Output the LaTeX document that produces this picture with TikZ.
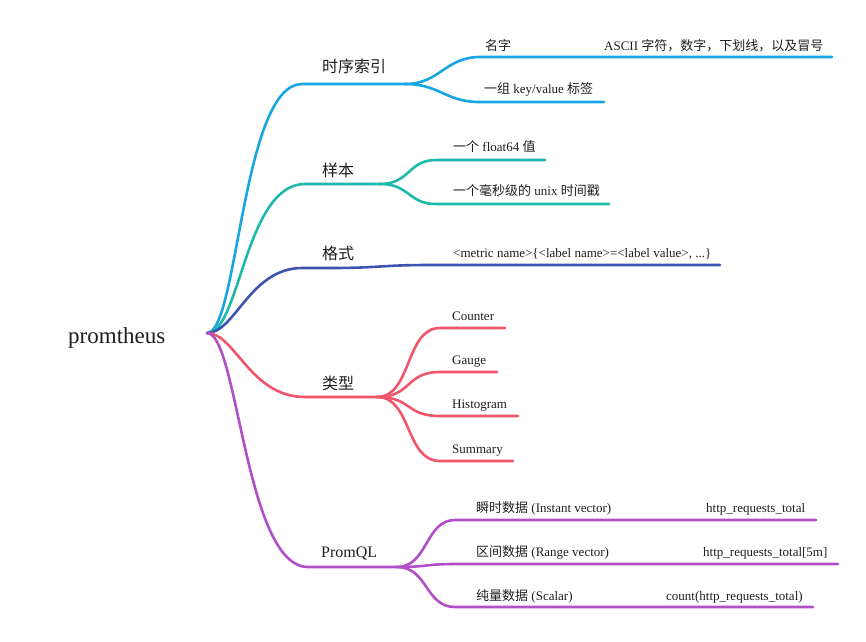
\documentclass[tikz,border=0pt]{standalone}
\usepackage{fontspec}
\setmainfont{Liberation Serif}
\newfontfamily\cjk{Noto Sans CJK SC}
\newcommand{\zh}[1]{{\cjk #1}}
\definecolor{cblue}{RGB}{24,165,228}
\definecolor{cteal}{RGB}{30,185,170}
\definecolor{cnavy}{RGB}{62,84,178}
\definecolor{cred}{RGB}{240,85,108}
\definecolor{cpurple}{RGB}{178,78,200}
\definecolor{ctext}{RGB}{30,30,30}
\tikzset{
  edge/.style={line width=2.6pt, line cap=round},
  leaf/.style={anchor=base west, inner sep=0pt, font=\fontsize{13}{15}\selectfont, text=ctext},
  topic/.style={anchor=base west, inner sep=0pt, font=\fontsize{16}{19}\selectfont, text=ctext},
  rootnode/.style={anchor=base west, inner sep=0pt, font=\fontsize{23}{27}\selectfont, text=ctext}
}
\begin{document}
\begin{tikzpicture}[x=1pt,y=-1pt]
\useasboundingbox (0,0) rectangle (866,641);
% root
\node[rootnode] (rootlabel) at (68,343) {promtheus};
\coordinate (root) at (207,333);

% ---------- branch 1
\coordinate (b1s) at (302,84);
\coordinate (b1e) at (405,84);
\coordinate (b1a) at (480,57);  \coordinate (b1ae) at (832,57);
\coordinate (b1b) at (480,102); \coordinate (b1be) at (604,102);
\node[topic] (t1) at (322,72) {\zh{时序索引}};
\node[leaf] (l1a) at (485,50) {\zh{名字}};
\node[leaf] (l1a2) at (604,50) {ASCII \zh{字符，数字，下划线，以及冒号}};
\node[leaf] (l1b) at (484,93) {\zh{一组} key/value \zh{标签}};
\begin{scope}[cblue]
\draw[edge] (root) .. controls (238,333) and (242,84) .. (b1s) -- (b1e);
\draw[edge] (b1e) .. controls (440,84) and (445,57) .. (b1a) -- (b1ae);
\draw[edge] (b1e) .. controls (440,84) and (445,102) .. (b1b) -- (b1be);
\end{scope}

% ---------- branch 2
\coordinate (b2s) at (305,184);
\coordinate (b2e) at (380,184);
\coordinate (b2a) at (436,160); \coordinate (b2ae) at (545,160);
\coordinate (b2b) at (436,204); \coordinate (b2be) at (609,204);
\node[topic] (t2) at (322,176) {\zh{样本}};
\node[leaf] (l2a) at (453,151) {\zh{一个} float64 \zh{值}};
\node[leaf] (l2b) at (453,195) {\zh{一个毫秒级的} unix \zh{时间戳}};
\begin{scope}[cteal]
\draw[edge] (root) .. controls (240,333) and (245,184) .. (b2s) -- (b2e);
\draw[edge] (b2e) .. controls (410,184) and (408,160) .. (b2a) -- (b2ae);
\draw[edge] (b2e) .. controls (410,184) and (408,204) .. (b2b) -- (b2be);
\end{scope}

% ---------- branch 3
\coordinate (b3s) at (302,268);
\coordinate (b3e) at (330,268);
\coordinate (b3a) at (430,265); \coordinate (b3ae) at (720,265);
\node[topic] (t3) at (322,259) {\zh{格式}};
\node[leaf] (l3a) at (453,257) {<metric name>\{<label name>=<label value>, ...\}};
\begin{scope}[cnavy]
\draw[edge] (root) .. controls (235,333) and (250,268) .. (b3s) -- (b3e);
\draw[edge] (b3e) .. controls (380,268) and (380,265) .. (b3a) -- (b3ae);
\end{scope}

% ---------- branch 4
\coordinate (b4s) at (305,397);
\coordinate (b4e) at (377,397);
\coordinate (b4a) at (440,328); \coordinate (b4ae) at (505,328);
\coordinate (b4b) at (440,372); \coordinate (b4be) at (497,372);
\coordinate (b4c) at (440,416); \coordinate (b4ce) at (518,416);
\coordinate (b4d) at (440,461); \coordinate (b4de) at (513,461);
\node[topic] (t4) at (322,389) {\zh{类型}};
\node[leaf] (l4a) at (452,320) {Counter};
\node[leaf] (l4b) at (452,364) {Gauge};
\node[leaf] (l4c) at (452,408) {Histogram};
\node[leaf] (l4d) at (452,453) {Summary};
\begin{scope}[cred]
\draw[edge] (root) .. controls (235,333) and (250,397) .. (b4s) -- (b4e);
\draw[edge] (b4e) .. controls (412,397) and (405,328) .. (b4a) -- (b4ae);
\draw[edge] (b4e) .. controls (412,397) and (405,372) .. (b4b) -- (b4be);
\draw[edge] (b4e) .. controls (412,397) and (405,416) .. (b4c) -- (b4ce);
\draw[edge] (b4e) .. controls (412,397) and (405,461) .. (b4d) -- (b4de);
\end{scope}

% ---------- branch 5
\coordinate (b5s) at (308,567);
\coordinate (b5e) at (397,567);
\coordinate (b5a) at (455,520); \coordinate (b5ae) at (816,520);
\coordinate (b5b) at (455,564); \coordinate (b5be) at (838,564);
\coordinate (b5c) at (455,607); \coordinate (b5ce) at (813,607);
\node[topic] (t5) at (321,557) {PromQL};
\node[leaf] (l5a) at (476,512) {\zh{瞬时数据} (Instant vector)};
\node[leaf] (l5a2) at (706,512) {http\_requests\_total};
\node[leaf] (l5b) at (476,556) {\zh{区间数据} (Range vector)};
\node[leaf] (l5b2) at (703,556) {http\_requests\_total[5m]};
\node[leaf] (l5c) at (476,600) {\zh{纯量数据} (Scalar)};
\node[leaf] (l5c2) at (666,600) {count(http\_requests\_total)};
\begin{scope}[cpurple]
\draw[edge] (root) .. controls (238,333) and (245,567) .. (b5s) -- (b5e);
\draw[edge] (b5e) .. controls (428,567) and (425,520) .. (b5a) -- (b5ae);
\draw[edge] (b5e) .. controls (428,567) and (425,564) .. (b5b) -- (b5be);
\draw[edge] (b5e) .. controls (428,567) and (425,607) .. (b5c) -- (b5ce);
\end{scope}
\end{tikzpicture}
\end{document}
